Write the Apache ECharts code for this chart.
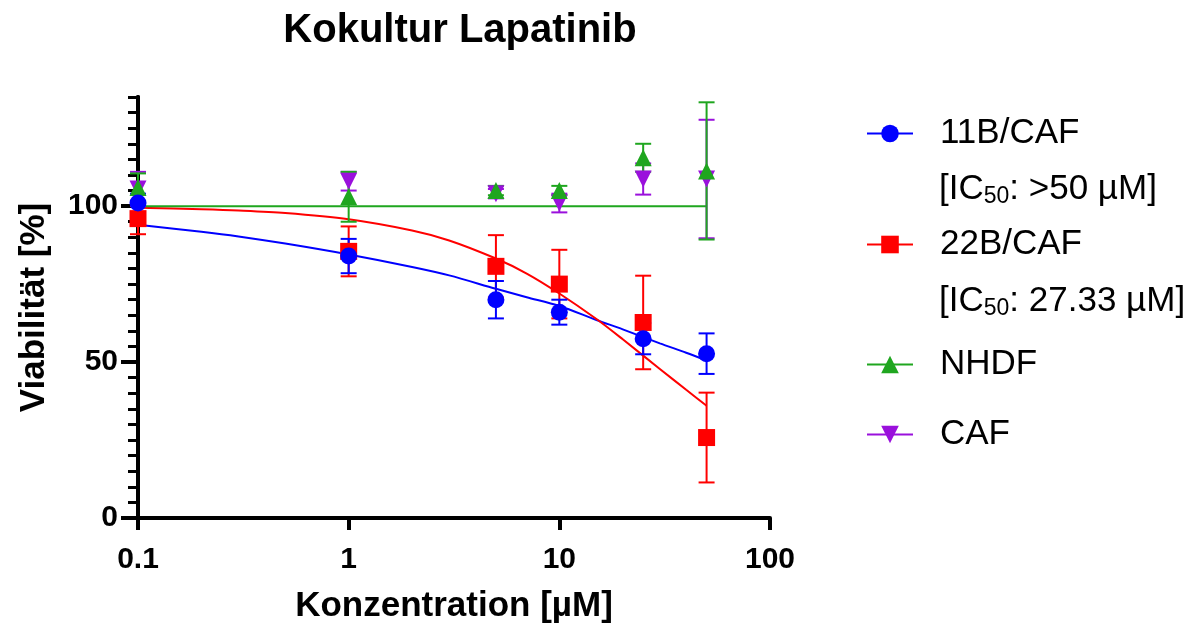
<!DOCTYPE html>
<html>
<head>
<meta charset="utf-8">
<script src="https://cdn.jsdelivr.net/npm/echarts@6/dist/echarts.min.js"></script>
<style>
    html, body { margin: 0; background: #fff; }
    #chart { width: 1199px; height: 632px; }
</style>
</head>
<body>
<div id="chart"></div>
<script>
'use strict';

// measured points (mean +/- error)
var conc = [0.1, 1, 5, 10, 25, 50];
var mean11B = [101, 84, 70, 66, 57.5, 52.7];
var err11B = [3, 5.5, 6, 4, 5, 6.5];
var mean22B = [96, 85.5, 80.7, 75, 62.7, 25.8];
var err22B = [5, 8, 10, 11, 15, 14.4];
var meanNHDF = [106, 103, 105, 105, 115.5, 111.3];
var errNHDF = [4.5, 8, 1.5, 1.5, 4.5, 22];
var meanCAF = [105.5, 108, 104, 101, 108.7, 108.7];
var errCAF = [5.5, 3, 1.5, 3, 5, 19];

// fitted curves
var curveX = [0.1, 0.2, 0.3, 0.5, 1, 2, 3, 5, 7, 10, 15, 20, 30, 40, 50];
var curve11B = [94, 91.8, 90.3, 88, 84.5, 80.5, 77.8, 73.5, 70.8, 68, 63.5, 60.5, 56, 53, 50.5];
var curve22B = [99.5, 99, 98.6, 97.8, 95.8, 92.2, 89, 83.2, 78.4, 72, 63.8, 57.3, 47.8, 41.1, 36];
var curveNHDF = [100, 100, 100, 100, 100, 100, 100, 100, 100, 100, 100, 100, 100, 100, 100];

var xTicks = [0.1, 1, 10, 100];
var yMajor = [0, 50, 100];

var FONT = 'Liberation Sans, Arial, sans-serif';
var C_BLUE = '#0000ff', C_RED = '#ff0000', C_GREEN = '#1fa61f', C_PURPLE = '#9a10dc';

function pairs(xs, ys) {
    var out = [];
    for (var i = 0; i < xs.length; i++) {
        out.push([xs[i], ys[i]]);
    }
    return out;
}

function bars(xs, ys, es) {
    var out = [];
    for (var i = 0; i < xs.length; i++) {
        out.push([xs[i], ys[i] - es[i], ys[i] + es[i]]);
    }
    return out;
}

function errorRender(color) {
    return function (params, api) {
        var x = api.value(0);
        var top = api.coord([x, api.value(2)]);
        var bot = api.coord([x, api.value(1)]);
        var w = 8;
        var st = { stroke: color, lineWidth: 2 };
        return {
            type: 'group',
            children: [
                { type: 'line', shape: { x1: top[0], y1: top[1], x2: bot[0], y2: bot[1] }, style: st },
                { type: 'line', shape: { x1: top[0] - w, y1: top[1], x2: top[0] + w, y2: top[1] }, style: st },
                { type: 'line', shape: { x1: bot[0] - w, y1: bot[1], x2: bot[0] + w, y2: bot[1] }, style: st }
            ]
        };
    };
}

function curveSeries(name, ys, color, symbol, rotate) {
    return {
        name: name,
        type: 'line',
        data: pairs(curveX, ys),
        smooth: 0.3,
        symbol: symbol,
        symbolRotate: rotate || 0,
        showSymbol: false,
        lineStyle: { color: color, width: 2 },
        itemStyle: { color: color },
        z: 2,
        silent: true
    };
}

function errSeries(xs, ys, es, color) {
    return {
        type: 'custom',
        data: bars(xs, ys, es),
        encode: { x: 0, y: [1, 2] },
        renderItem: errorRender(color),
        z: 3,
        silent: true
    };
}

function pointSeries(ys, color, symbol, rotate) {
    return {
        type: 'scatter',
        data: pairs(conc, ys),
        symbol: symbol,
        symbolRotate: rotate || 0,
        symbolSize: 17,
        itemStyle: { color: color, opacity: 1 },
        z: 4,
        silent: true
    };
}

function legendAt(name, top) {
    return {
        data: [name],
        left: 861,
        top: top,
        itemWidth: 46,
        itemHeight: 22,
        selectedMode: false,
        textStyle: { fontFamily: FONT, fontSize: 35, color: '#000', padding: [0, 0, 0, 22] }
    };
}

function icText(label, top) {
    return {
        type: 'text', left: 939, top: top,
        style: {
            text: '[IC{s|50}: ' + label + ']', fill: '#000', font: '35px ' + FONT,
            rich: { s: { fontSize: 23, fontFamily: FONT, padding: [14, 0, 0, 0] } }
        }
    };
}

var chart = echarts.init(document.getElementById('chart'));

var option = {
    backgroundColor: '#fff',
    animation: false,
    title: {
        text: 'Kokultur Lapatinib',
        left: 455,
        top: 6,
        textAlign: 'center',
        textStyle: { fontFamily: FONT, fontSize: 40, fontWeight: 'bold', color: '#000' }
    },
    legend: [
        legendAt('11B/CAF', 111),
        legendAt('22B/CAF', 222),
        legendAt('NHDF', 342),
        legendAt('CAF', 412)
    ],
    graphic: [
        icText('>50 µM', 172),
        icText('27.33 µM', 284)
    ],
    grid: { left: 138, right: 429, top: 97, bottom: 114 },
    xAxis: {
        type: 'log',
        logBase: 10,
        min: 0.1,
        max: 100,
        name: 'Konzentration [µM]',
        nameLocation: 'middle',
        nameGap: 71,
        nameTextStyle: { fontFamily: FONT, fontSize: 35, fontWeight: 'bold', color: '#000' },
        axisLine: { lineStyle: { color: '#000', width: 4 } },
        axisTick: { length: 12, lineStyle: { color: '#000', width: 4 }, customValues: xTicks },
        axisLabel: {
            customValues: xTicks,
            margin: 27,
            fontFamily: FONT, fontSize: 30, fontWeight: 'bold', color: '#000',
            formatter: function (v) { return String(v); }
        },
        splitLine: { show: false },
        minorTick: { show: false }
    },
    yAxis: [
        {
            type: 'value',
            position: 'left',
            min: 0,
            max: 135,
            interval: 5,
            axisLine: { show: true, lineStyle: { color: '#000', width: 4 } },
            axisTick: { show: true, length: 10, lineStyle: { color: '#000', width: 3 } },
            axisLabel: { show: false },
            splitLine: { show: false }
        },
        {
            type: 'value',
            position: 'left',
            offset: 0,
            min: 0,
            max: 135,
            interval: 50,
            name: 'Viabilität [%]',
            nameLocation: 'middle',
            nameGap: 86,
            nameTextStyle: { fontFamily: FONT, fontSize: 35, fontWeight: 'bold', color: '#000' },
            axisLine: { show: true, lineStyle: { color: '#000', width: 4 } },
            axisTick: { show: true, length: 17, lineStyle: { color: '#000', width: 4 }, customValues: yMajor },
            axisLabel: {
                customValues: yMajor,
                margin: 20,
                fontFamily: FONT, fontSize: 30, fontWeight: 'bold', color: '#000'
            },
            splitLine: { show: false }
        }
    ],
    series: [
        curveSeries('11B/CAF', curve11B, C_BLUE, 'circle'),
        curveSeries('22B/CAF', curve22B, C_RED, 'rect'),
        curveSeries('NHDF', curveNHDF, C_GREEN, 'triangle'),
        {
            name: 'CAF',
            type: 'line',
            data: [],
            symbol: 'triangle',
            symbolRotate: 180,
            lineStyle: { color: C_PURPLE, width: 2 },
            itemStyle: { color: C_PURPLE }
        },
        errSeries(conc, meanCAF, errCAF, C_PURPLE),
        errSeries(conc, meanNHDF, errNHDF, C_GREEN),
        errSeries(conc, mean22B, err22B, C_RED),
        errSeries(conc, mean11B, err11B, C_BLUE),
        pointSeries(meanCAF, C_PURPLE, 'triangle', 180),
        pointSeries(meanNHDF, C_GREEN, 'triangle'),
        pointSeries(mean22B, C_RED, 'rect'),
        pointSeries(mean11B, C_BLUE, 'circle')
    ]
};

chart.setOption(option);
</script>
</body>
</html>
